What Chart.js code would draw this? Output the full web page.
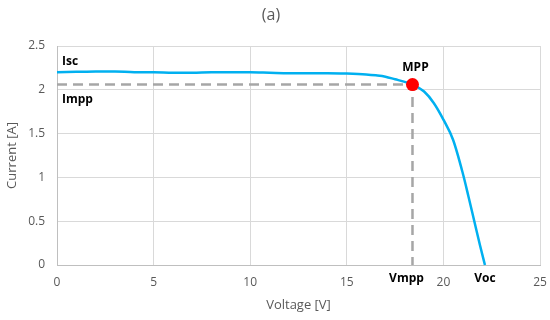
<!DOCTYPE html>
<html>
<head>
<meta charset="utf-8">
<script src="https://cdn.jsdelivr.net/npm/chart.js@4.4.1/dist/chart.umd.min.js"></script>
<style>
  html, body { margin: 0; padding: 0; background: #ffffff; }
  #wrap { width: 550px; height: 320px; position: relative; }
</style>
</head>
<body>
<div id="wrap"><canvas id="c" width="550" height="320"></canvas></div>
<script>
// ---- data ----
const voltage = [0, 1, 2, 3, 4, 5, 6, 7, 8, 9, 10, 11, 12, 13, 14, 15, 16, 16.5, 17, 17.5, 18, 18.4, 19, 19.5, 20, 20.5, 21, 21.3, 21.6, 21.9, 22.15];
const current = [2.20, 2.205, 2.21, 2.21, 2.20, 2.20, 2.195, 2.195, 2.20, 2.20, 2.20, 2.195, 2.19, 2.19, 2.19, 2.185, 2.175, 2.165, 2.15, 2.12, 2.09, 2.06, 1.98, 1.85, 1.66, 1.43, 1.05, 0.78, 0.50, 0.22, 0];
const Isc = 2.2;
const Impp = 2.06;
const Vmpp = 18.4;
const Voc = 22.15;
const xTickValues = [0, 5, 10, 15, 20, 25];
const yTickValues = [0, 0.5, 1, 1.5, 2, 2.5];
const titleText = '(a)';
const xTitle = 'Voltage [V]';
const yTitle = 'Current [A]';
const annotationTexts = { isc: 'Isc', impp: 'Impp', mpp: 'MPP', vmpp: 'Vmpp', voc: 'Voc' };

const curvePoints = voltage.map((v, i) => ({ x: v, y: current[i] }));
const dashedPoints = [{ x: 0, y: Impp }, { x: Vmpp, y: Impp }, { x: Vmpp, y: 0 }];
const mppPoint = [{ x: Vmpp, y: Impp }];

const FONT = "'Open Sans', 'Liberation Sans', sans-serif";
const GREY = '#595959';

const annotationPlugin = {
  id: 'ivAnnotations',
  afterDatasetsDraw(chart) {
    const { ctx, scales: { x, y } } = chart;
    ctx.save();
    ctx.fillStyle = '#000000';
    ctx.font = "bold 12px " + FONT;
    ctx.textBaseline = 'middle';
    ctx.textAlign = 'left';
    ctx.fillText(annotationTexts.isc, x.getPixelForValue(0) + 5, y.getPixelForValue(Isc) - 11);
    ctx.fillText(annotationTexts.impp, x.getPixelForValue(0) + 5, y.getPixelForValue(Impp) + 15);
    ctx.textAlign = 'center';
    ctx.fillText(annotationTexts.mpp, x.getPixelForValue(Vmpp) + 3, y.getPixelForValue(Impp) - 17);
    ctx.fillText(annotationTexts.vmpp, x.getPixelForValue(Vmpp) - 6, y.getPixelForValue(0) + 14);
    ctx.fillText(annotationTexts.voc, x.getPixelForValue(Voc), y.getPixelForValue(0) + 14);
    // title
    ctx.fillStyle = GREY;
    ctx.font = "16px " + FONT;
    ctx.fillText(titleText, 271, 15);
    ctx.restore();
  }
};

new Chart(document.getElementById('c'), {
  type: 'line',
  data: {
    datasets: [
      {
        data: mppPoint,
        showLine: false,
        pointRadius: 6.5,
        pointBackgroundColor: '#ff0000',
        pointBorderColor: '#ff0000',
        pointBorderWidth: 0,
        order: 0
      },
      {
        data: curvePoints,
        borderColor: '#00b0f0',
        borderWidth: 2.5,
        pointRadius: 0,
        cubicInterpolationMode: 'monotone',
        fill: false,
        clip: 6,
        order: 1
      },
      {
        data: dashedPoints,
        borderColor: '#a6a6a6',
        borderWidth: 2.5,
        borderDash: [10, 6],
        pointRadius: 0,
        tension: 0,
        fill: false,
        order: 2
      }
    ]
  },
  options: {
    responsive: false,
    animation: false,
    devicePixelRatio: 1,
    layout: { padding: { top: 46, right: 10, left: 0, bottom: 0 } },
    plugins: {
      legend: { display: false },
      tooltip: { enabled: false },
      title: { display: false }
    },
    scales: {
      x: {
        type: 'linear',
        min: xTickValues[0],
        max: xTickValues[xTickValues.length - 1],
        afterBuildTicks: (s) => { s.ticks = xTickValues.map(v => ({ value: v })); },
        afterFit: (s) => { s.height = 55; s.paddingLeft = 0; s.paddingRight = 0; },
        ticks: { color: GREY, font: { family: FONT, size: 12 }, padding: 10, maxRotation: 0, callback: (v) => String(v) },
        grid: { color: '#d9d9d9', lineWidth: 1, drawTicks: false },
        border: { color: '#bfbfbf', width: 1 },
        title: { display: true, text: xTitle, color: GREY, font: { family: FONT, size: 13 }, padding: { top: 0, bottom: 7 } }
      },
      y: {
        type: 'linear',
        min: yTickValues[0],
        max: yTickValues[yTickValues.length - 1],
        afterBuildTicks: (s) => { s.ticks = yTickValues.map(v => ({ value: v })); },
        afterFit: (s) => { s.width = 57; s.paddingTop = 0; s.paddingBottom = 0; },
        ticks: { color: GREY, font: { family: FONT, size: 12 }, padding: 12, callback: (v) => String(v) },
        grid: { color: '#d9d9d9', lineWidth: 1, drawTicks: false },
        border: { color: '#bfbfbf', width: 1 },
        title: { display: true, text: yTitle, color: GREY, font: { family: FONT, size: 13 }, padding: { top: 4, bottom: 0 } }
      }
    }
  },
  plugins: [annotationPlugin]
});
</script>
</body>
</html>
